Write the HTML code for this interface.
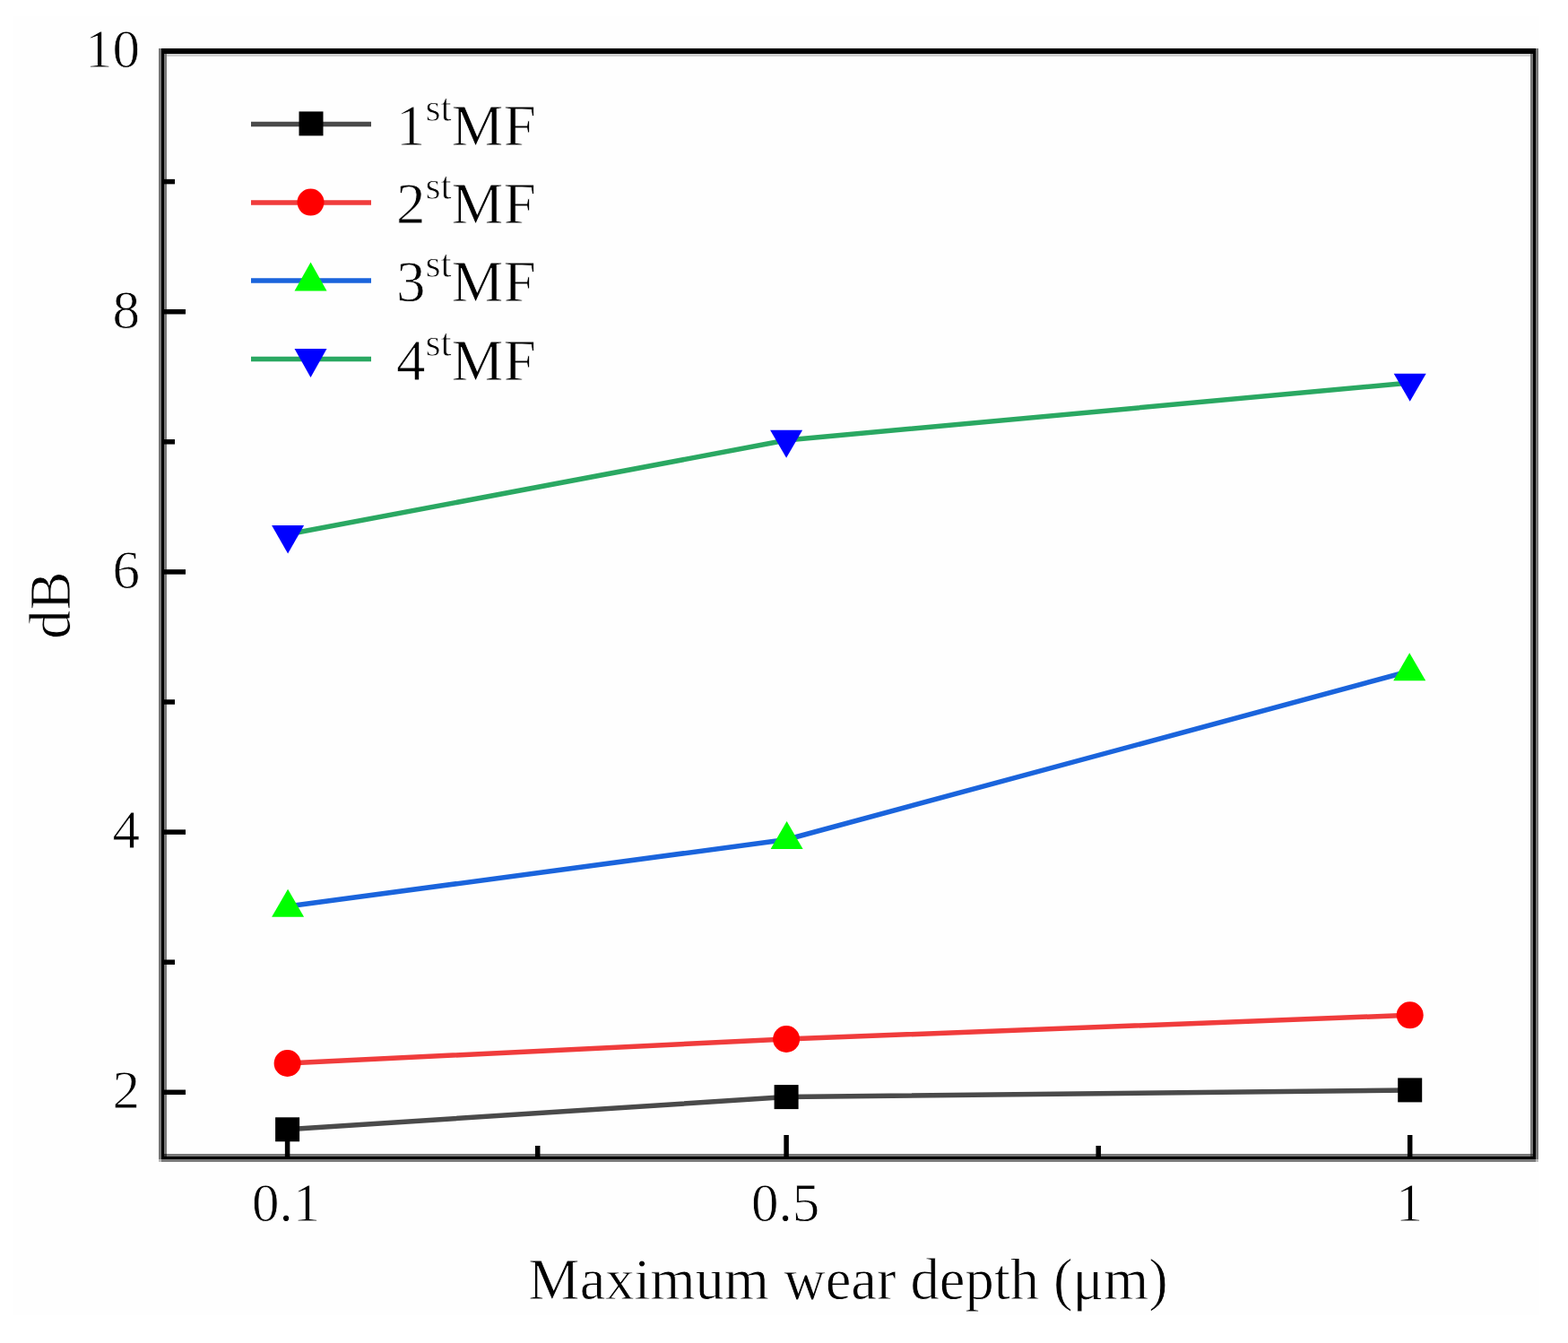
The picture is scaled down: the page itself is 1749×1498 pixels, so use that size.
<!DOCTYPE html>
<html>
<head>
<meta charset="utf-8">
<style>
html,body{margin:0;padding:0;background:#fff;}
body{width:1749px;height:1498px;overflow:hidden;}
svg{display:block;}
text{font-family:"Liberation Serif","Times New Roman",serif;fill:#000;stroke:#fefefe;stroke-width:0.8px;}
</style>
</head>
<body>
<svg width="1749" height="1498" viewBox="0 0 1749 1498">
<rect x="0" y="0" width="1749" height="1498" fill="#fff"/>
<rect x="14" y="18" width="1703" height="1449" fill="#fefefe"/>

<!-- data lines -->
<g fill="none" stroke-linejoin="round" stroke-width="5.5">
<polyline points="320.6,1259.8 877.1,1223.6 1572.7,1215.9" stroke="#4a4a4a"/>
<polyline points="320.6,1186 877.1,1159 1572.7,1132.3" stroke="#f03c3c"/>
<polyline points="320.6,1011 877.1,936.5 1572.7,748.5" stroke="#1a64dc"/>
<polyline points="320.6,596 877.1,491 1572.7,427" stroke="#2aa862"/>
</g>

<!-- frame -->
<g shape-rendering="crispEdges">
<g fill="#787878">
<rect x="177" y="54" width="3" height="1239"/>
<rect x="183" y="60" width="3" height="1227"/>
<rect x="1707" y="60" width="3" height="1227"/>
<rect x="1713" y="54" width="3" height="1239"/>
<rect x="183" y="1287" width="1527" height="3"/>
<rect x="180" y="1293" width="1533" height="3"/>
</g>
<rect x="177" y="1293" width="3" height="3" fill="#bbb"/>
<rect x="1713" y="1293" width="3" height="3" fill="#bbb"/>
<rect x="186" y="60" width="1521" height="3" fill="#d0d0d0"/>
<rect x="183" y="1287" width="3" height="3" fill="#333"/>
<rect x="1707" y="1287" width="3" height="3" fill="#444"/>
<g fill="#000">
<rect x="180" y="54" width="3" height="1239"/>
<rect x="1710" y="54" width="3" height="1239"/>
<rect x="180" y="54" width="1533" height="6"/>
<rect x="180" y="1290" width="1533" height="3"/>
</g>
</g>

<!-- y ticks -->
<g stroke="#000" stroke-width="5.5">
<line x1="182" y1="347.7" x2="207" y2="347.7"/>
<line x1="182" y1="637.9" x2="207" y2="637.9"/>
<line x1="182" y1="928.1" x2="207" y2="928.1"/>
<line x1="182" y1="1218.3" x2="207" y2="1218.3"/>
<line x1="182" y1="202.6" x2="195" y2="202.6"/>
<line x1="182" y1="492.8" x2="195" y2="492.8"/>
<line x1="182" y1="783" x2="195" y2="783"/>
<line x1="182" y1="1073.2" x2="195" y2="1073.2"/>
</g>
<!-- x ticks -->
<g stroke="#000" stroke-width="5.5">
<line x1="320.6" y1="1291" x2="320.6" y2="1266"/>
<line x1="877.1" y1="1291" x2="877.1" y2="1266"/>
<line x1="1572.7" y1="1291" x2="1572.7" y2="1266"/>
<line x1="599.7" y1="1291" x2="599.7" y2="1278"/>
<line x1="1225.2" y1="1291" x2="1225.2" y2="1278"/>
</g>

<!-- markers -->
<g fill="#000">
<rect x="307.1" y="1246.3" width="27" height="27"/>
<rect x="863.6" y="1210.1" width="27" height="27"/>
<rect x="1559.2" y="1202.4" width="27" height="27"/>
</g>
<g fill="#ff0000">
<circle cx="320.6" cy="1186" r="15"/>
<circle cx="877.1" cy="1159" r="15"/>
<circle cx="1572.7" cy="1132.3" r="15"/>
</g>
<g fill="#00ff00">
<polygon points="321.1,991.8 303.1,1022.8 339.1,1022.8"/>
<polygon points="877.6,916 859.6,947 895.6,947"/>
<polygon points="1572.2,728.3 1554.2,759.3 1590.2,759.3"/>
</g>
<g fill="#0000ff">
<polygon points="303.1,585.9 339.1,585.9 321.1,617.4"/>
<polygon points="859.1,479.7 895.1,479.7 877.1,510.7"/>
<polygon points="1554.7,416.7 1590.7,416.7 1572.7,447.7"/>
</g>

<!-- legend -->
<g stroke-width="5.5" fill="none">
<line x1="280" y1="138.4" x2="414" y2="138.4" stroke="#4a4a4a"/>
<line x1="280" y1="225.9" x2="414" y2="225.9" stroke="#f03c3c"/>
<line x1="280" y1="313.1" x2="414" y2="313.1" stroke="#1a64dc"/>
<line x1="280" y1="400.6" x2="414" y2="400.6" stroke="#2aa862"/>
</g>
<rect x="333.5" y="124.4" width="27" height="27" fill="#000"/>
<circle cx="346.5" cy="225.6" r="15" fill="#ff0000"/>
<polygon points="346.5,292.4 328.5,324.4 364.5,324.4" fill="#00ff00"/>
<polygon points="328.5,389 364.5,389 346.5,421" fill="#0000ff"/>

<g font-size="65">
<text x="442" y="161.5">1<tspan font-size="44" dy="-27">st</tspan><tspan dx="0" dy="27">MF</tspan></text>
<text x="442" y="248.5">2<tspan font-size="44" dy="-27">st</tspan><tspan dx="0" dy="27">MF</tspan></text>
<text x="442" y="336">3<tspan font-size="44" dy="-27">st</tspan><tspan dx="0" dy="27">MF</tspan></text>
<text x="442" y="423.5">4<tspan font-size="44" dy="-27">st</tspan><tspan dx="0" dy="27">MF</tspan></text>
</g>

<!-- tick labels -->
<g font-size="61" text-anchor="end">
<text x="156" y="75">10</text>
<text x="156" y="366">8</text>
<text x="156" y="656">6</text>
<text x="156" y="946">4</text>
<text x="156" y="1236">2</text>
</g>
<g font-size="61" text-anchor="middle">
<text x="319" y="1362">0.1</text>
<text x="876" y="1362">0.5</text>
<text x="1572" y="1362">1</text>
</g>

<!-- axis titles -->
<text font-size="64.5" text-anchor="middle" x="946" y="1448.5">Maximum wear depth (μm)</text>
<text font-size="64.5" text-anchor="middle" transform="translate(78,675) rotate(-90)">dB</text>
</svg>
</body>
</html>
